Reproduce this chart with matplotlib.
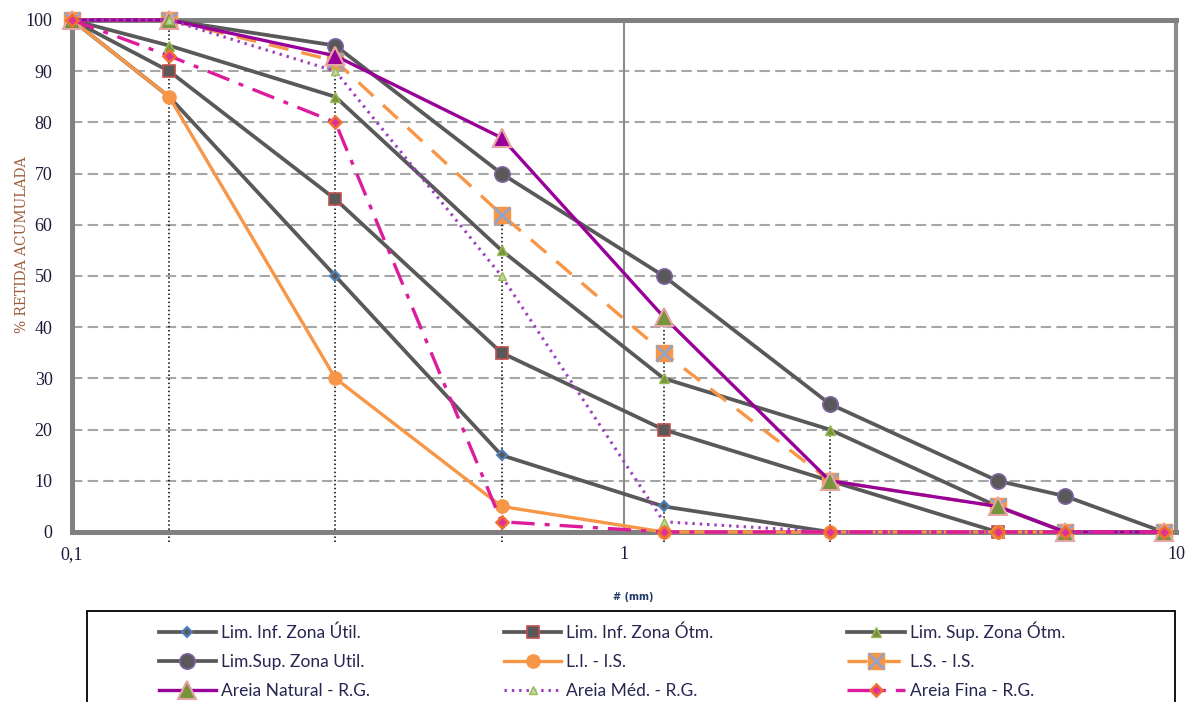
import numpy as np
import matplotlib
matplotlib.use("Agg")
import matplotlib.pyplot as plt
from matplotlib.lines import Line2D
from matplotlib.patches import Rectangle

# Sieve openings (mm) and cumulative retained (%)
sieves = [0.1, 0.15, 0.3, 0.6, 1.18, 2.36, 4.75, 6.3, 9.5]

lim_inf_util = [100, 85, 50, 15, 5, 0, 0, 0, 0]
lim_inf_otm = [100, 90, 65, 35, 20, 10, 0, 0, 0]
lim_sup_otm = [100, 95, 85, 55, 30, 20, 5, 0, 0]
lim_sup_util = [100, 100, 95, 70, 50, 25, 10, 7, 0]
li_is = [100, 85, 30, 5, 0, 0, 0, 0, 0]
ls_is = [100, 100, 92, 62, 35, 10, 5, 0, 0]
areia_natural = [100, 100, 93, 77, 42, 10, 5, 0, 0]
areia_media = [100, 100, 90, 50, 2, 0, 0, 0, 0]
areia_fina = [100, 93, 80, 2, 0, 0, 0, 0, 0]

# dotted guide lines at some sieves
guide_x = [0.15, 0.3, 0.6, 1.18, 2.36]
guide_top = [100, 92, 62, 42, 20]

labels = ['Lim. Inf. Zona Útil.', 'Lim. Inf. Zona Ótm.', 'Lim. Sup. Zona Ótm.',
          'Lim.Sup. Zona Util.', 'L.I. - I.S.', 'L.S. - I.S.',
          'Areia Natural - R.G.', 'Areia Méd. - R.G.', 'Areia Fina - R.G.']

gray = '#595959'
orange = '#F79646'
purple = '#990099'

fig = plt.figure(figsize=(11.89, 7.02), dpi=100)
ax = fig.add_axes([72 / 1189, 1 - 532 / 702, (1176 - 72) / 1189, (532 - 20) / 702])

ax.set_xscale('log')
ax.set_xlim(0.1, 10)
ax.set_ylim(0, 100)

# grid
for v in range(10, 100, 10):
    ax.axhline(v, color='#A6A6A6', lw=1.5, ls=(0, (5, 2.5)), zorder=1)
ax.axvline(1, color='#8C8C8C', lw=1.5, zorder=1)
ax.vlines(guide_x, -2, guide_top, colors='black', linestyles=':', lw=1.1,
          zorder=2, clip_on=False)

kw = dict(clip_on=False, zorder=3)
h = []
h.append(ax.plot(sieves, lim_inf_util, color=gray, lw=2.7, marker='D', ms=5,
                 mfc=gray, mec='#4F81BD', mew=1.5, **kw)[0])
h.append(ax.plot(sieves, lim_inf_otm, color=gray, lw=2.7, marker='s', ms=8,
                 mfc=gray, mec='#C0504D', mew=1.2, **kw)[0])
h.append(ax.plot(sieves, lim_sup_otm, color=gray, lw=2.7, marker='^', ms=7.5,
                 mfc='#77933C', mec='#9BBB59', mew=1, **kw)[0])
h.append(ax.plot(sieves, lim_sup_util, color=gray, lw=2.7, marker='o', ms=11,
                 mfc=gray, mec='#8064A2', mew=1.2, **kw)[0])
h.append(ax.plot(sieves, li_is, color=orange, lw=2.4, marker='o', ms=9.5,
                 mfc=orange, mec=orange, **kw)[0])
ls_line = ax.plot(sieves, ls_is, color=orange, lw=2.4, ls=(0, (6, 4)), marker='s',
                  ms=11, mfc=orange, mec=orange, **kw)[0]
ls_x = ax.plot(sieves, ls_is, ls='none', marker='x', ms=11, mec='#95A3C8',
               mew=2, **kw)[0]
h.append((ls_line, ls_x))
h.append(ax.plot(sieves, areia_natural, color=purple, lw=2.4, marker='^', ms=13,
                 mfc='#77933C', mec='#E6A5A5', mew=1.5, **kw)[0])
ax.plot(sieves[2:4], areia_natural[2:4], ls='none', marker='^', ms=13,
        mfc=purple, mec='#E6A5A5', mew=1.5, **kw)
h.append(ax.plot(sieves, areia_media, color='#A040C0', lw=2.2, ls=(0, (0.8, 1.6)),
                 marker='^', ms=6, mfc='#C3D69B', mec='#9BBB59', mew=1, **kw)[0])
h.append(ax.plot(sieves, areia_fina, color='#DD1C9C', lw=2.4,
                 ls=(0, (7, 3, 1.5, 3)), marker='D', ms=6.5,
                 mfc='#E0309A', mec='#F07030', mew=1.8, **kw)[0])

# spines and ticks
for s in ['left', 'bottom', 'top']:
    ax.spines[s].set_color('#808080')
    ax.spines[s].set_linewidth(3.6)
ax.spines['right'].set_color('#8C8C8C')
ax.spines['right'].set_linewidth(3)

ax.set_yticks(range(0, 101, 10))
ax.set_xticks([0.1, 1, 10])
ax.set_xticklabels(['0,1', '1', '10'])
ax.xaxis.set_minor_locator(matplotlib.ticker.NullLocator())
ax.tick_params(axis='both', length=0, labelsize=13, labelcolor='#1a1a3a')
ax.tick_params(axis='y', pad=14)
ax.tick_params(axis='x', pad=10)
for t in ax.get_xticklabels() + ax.get_yticklabels():
    t.set_family('Liberation Serif')

fig.text(22 / 1189, 1 - 245 / 702, '% RETIDA ACUMULADA', rotation=90,
         ha='center', va='center', fontsize=10, color='#9C5B3B',
         family='DejaVu Serif')
fig.text(633 / 1189, 1 - 597 / 702, '# (mm)', ha='center', va='center',
         fontsize=7, fontweight='bold', color='#1F3A6A', family='DejaVu Sans')

# legend box
fig.patches.append(Rectangle((87 / 1189, -0.05), (1175 - 87) / 1189,
                             1 - 611 / 702 + 0.05, transform=fig.transFigure,
                             fill=False, edgecolor='black', lw=1.3))
order = [0, 3, 6, 1, 4, 7, 2, 5, 8]
leg = fig.legend([h[i] for i in order], [labels[i] for i in order],
                 loc='upper left', bbox_to_anchor=(150 / 1189, 1 - 613 / 702),
                 ncol=3, frameon=False, prop={'family': 'Lato', 'size': 12.5},
                 handlelength=3.3, handletextpad=0.3, columnspacing=7.7,
                 labelspacing=0.75, borderpad=0, numpoints=1)
for t in leg.get_texts():
    t.set_color('#262650')

fig.savefig('out.png', dpi=100)
